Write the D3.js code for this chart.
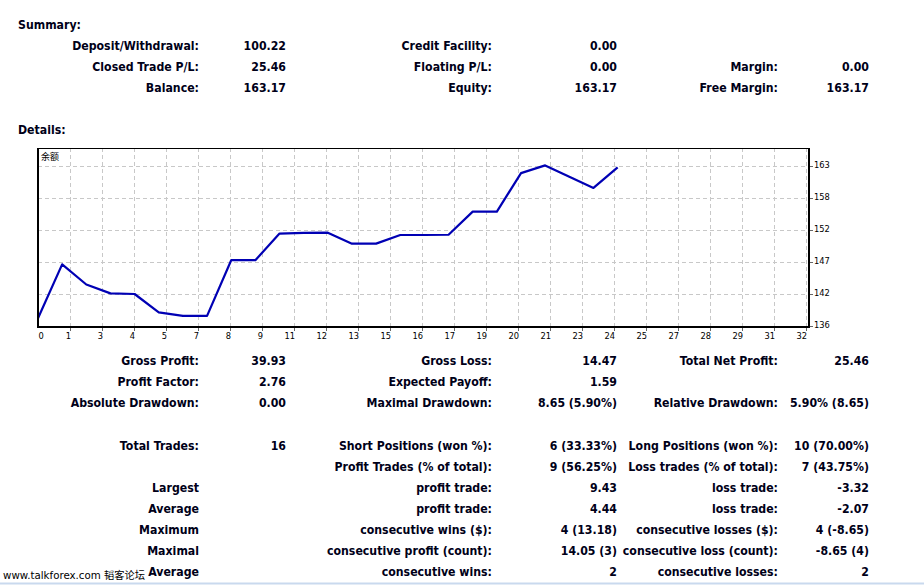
<!DOCTYPE html>
<html><head><meta charset="utf-8">
<script src="https://cdn.jsdelivr.net/npm/d3@7"></script>
<style>
html,body{margin:0;padding:0;background:#fff;}
svg{display:block;}
.t{font-family:"DejaVu Sans",Verdana,sans-serif;font-weight:bold;font-size:12px;fill:#000018;}
.ax{font-family:"DejaVu Sans",Tahoma,sans-serif;font-size:8.3px;fill:#000;}
</style></head>
<body>
<svg id="c" width="924" height="585"></svg>
<script>
// ---------- data ----------
const balance = [137.71,146.8,143.4,141.9,141.8,138.7,138.1,138.1,147.5,147.5,152.0,152.1,152.15,150.3,150.3,151.76,151.76,151.8,155.7,155.7,162.2,163.5,161.6,159.7,163.17];
const xTickLabels = [0,1,3,4,5,7,8,9,11,12,13,15,16,17,19,20,21,23,24,25,27,28,29,31,32];
const yTickValues = [136.4,141.8,147.2,152.6,158.0,163.4];
const yTickLabels = ["136","142","147","152","158","163"];
const chartTitle = "余额";

const summaryLabels1 = ["Deposit/Withdrawal:","Closed Trade P/L:","Balance:"];
const summaryValues1 = ["100.22","25.46","163.17"];
const summaryLabels2 = ["Credit Facility:","Floating P/L:","Equity:"];
const summaryValues2 = ["0.00","0.00","163.17"];
const summaryLabels3 = ["","Margin:","Free Margin:"];
const summaryValues3 = ["","0.00","163.17"];

const detailLabels1 = ["Gross Profit:","Profit Factor:","Absolute Drawdown:","Total Trades:","","Largest","Average","Maximum","Maximal","Average"];
const detailValues1 = ["39.93","2.76","0.00","16","","","","","",""];
const detailLabels2 = ["Gross Loss:","Expected Payoff:","Maximal Drawdown:","Short Positions (won %):","Profit Trades (% of total):","profit trade:","profit trade:","consecutive wins ($):","consecutive profit (count):","consecutive wins:"];
const detailValues2 = ["14.47","1.59","8.65 (5.90%)","6 (33.33%)","9 (56.25%)","9.43","4.44","4 (13.18)","14.05 (3)","2"];
const detailLabels3 = ["Total Net Profit:","","Relative Drawdown:","Long Positions (won %):","Loss trades (% of total):","loss trade:","loss trade:","consecutive losses ($):","consecutive loss (count):","consecutive losses:"];
const detailValues3 = ["25.46","","5.90% (8.65)","10 (70.00%)","7 (43.75%)","-3.32","-2.07","4 (-8.65)","-8.65 (4)","2"];
const footerText = "www.talkforex.com 韬客论坛";

// ---------- layout ----------
const svg = d3.select("#c");
const SX = 0.915; // horizontal squeeze to match Tahoma-like width
const colRight = [199, 286, 492, 617, 778, 869];
const topBase = [50, 71, 92];
const detBase = [365, 386, 407, 450, 471, 492, 513, 534, 555, 576];

const tg = svg.append("g").attr("transform", `scale(${SX},1)`);
tg.append("text").attr("class","t").attr("x",18/SX).attr("y",29.5).text("Summary:");
tg.append("text").attr("class","t").attr("x",18/SX).attr("y",134.5).text("Details:");

function column(arr, xr, bases){
  tg.append("g").selectAll("text").data(arr).join("text")
    .attr("class","t").attr("text-anchor","end")
    .attr("x", xr/SX).attr("y",(d,i)=>bases[i]).text(d=>d);
}
[[summaryLabels1,0],[summaryValues1,1],[summaryLabels2,2],[summaryValues2,3],[summaryLabels3,4],[summaryValues3,5]]
  .forEach(([a,c])=>column(a,colRight[c],topBase));
[[detailLabels1,0],[detailValues1,1],[detailLabels2,2],[detailValues2,3],[detailLabels3,4],[detailValues3,5]]
  .forEach(([a,c])=>column(a,colRight[c],detBase));

svg.append("text").attr("x",3).attr("y",579)
  .style("font-family","'DejaVu Sans','Noto Sans CJK SC',sans-serif").style("font-size","10.5px").style("fill","#000")
  .attr("textLength",142).attr("lengthAdjust","spacingAndGlyphs")
  .text(footerText);
svg.append("line").attr("x1",0).attr("x2",924).attr("y1",583.5).attr("y2",583.5)
  .attr("stroke","#c9d9ee").attr("stroke-width",2);

// ---------- chart ----------
const L = 38, R = 809, T = 148, B = 327;
const x = d3.scaleLinear().domain([0, 31.8]).range([38, 806]);
const y = d3.scaleLinear().domain([yTickValues[0], yTickValues[yTickValues.length-1]]).range([326, 166]);
const xTickValues = xTickLabels.map((d,k)=>k*31.8/24);

const g = svg.append("g");
// grid
g.selectAll(".vg").data(xTickValues.slice(1)).join("line")
  .attr("x1",d=>Math.round(x(d))+0.5).attr("x2",d=>Math.round(x(d))+0.5)
  .attr("y1",T).attr("y2",B)
  .attr("stroke","#c8c8c8").attr("stroke-dasharray","4,3");
g.selectAll(".hg").data(yTickValues).join("line")
  .attr("x1",L).attr("x2",R)
  .attr("y1",d=>Math.round(y(d))+0.5).attr("y2",d=>Math.round(y(d))+0.5)
  .attr("stroke","#c8c8c8").attr("stroke-dasharray","4,3");

// line
g.append("path").datum(balance)
  .attr("d", d3.line().x((d,i)=>x(i)).y(d=>y(d)))
  .attr("fill","none").attr("stroke","#0000b4").attr("stroke-width",2.2)
  .attr("stroke-linejoin","round");

// frame
g.append("line").attr("x1",L).attr("x2",R).attr("y1",T+0.5).attr("y2",T+0.5).attr("stroke","#000").attr("stroke-width",1);
g.append("line").attr("x1",L).attr("x2",L).attr("y1",T).attr("y2",B+1).attr("stroke","#000").attr("stroke-width",2);
g.append("line").attr("x1",R).attr("x2",R).attr("y1",T).attr("y2",B+1).attr("stroke","#000").attr("stroke-width",2);
g.append("line").attr("x1",L).attr("x2",R+1).attr("y1",B).attr("y2",B).attr("stroke","#000").attr("stroke-width",2);

// right axis
g.selectAll(".yt").data(yTickValues).join("line")
  .attr("x1",R+1).attr("x2",R+4).attr("y1",d=>Math.round(y(d))+0.5).attr("y2",d=>Math.round(y(d))+0.5)
  .attr("stroke","#666");
g.selectAll(".yl").data(yTickValues).join("text").attr("class","ax")
  .attr("x",814).attr("y",d=>y(d)+2).text((d,i)=>yTickLabels[i]);

// bottom axis
g.selectAll(".xt").data(xTickValues.slice(1)).join("line")
  .attr("x1",d=>Math.round(x(d))+0.5).attr("x2",d=>Math.round(x(d))+0.5).attr("y1",B+1).attr("y2",B+4)
  .attr("stroke","#666");
g.selectAll(".xl").data(xTickValues).join("text").attr("class","ax")
  .attr("text-anchor",(d,i)=>i===0?"start":"end")
  .attr("x",(d,i)=>i===0?x(d)+0.5:x(d)+1).attr("y",339).text((d,i)=>xTickLabels[i]);

g.append("text").attr("x",41).attr("y",160)
  .style("font-family","'Noto Sans CJK SC',sans-serif").style("font-size","9px").style("fill","#000")
  .text(chartTitle);
</script>
</body></html>
